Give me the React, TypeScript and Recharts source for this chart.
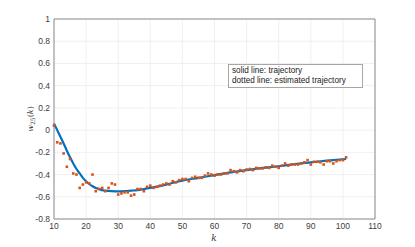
import React from "react";
import { ComposedChart, Line, XAxis, YAxis, CartesianGrid, ReferenceLine } from "recharts";

const estK = [10,11,12,13,14,15,16,17,18,19,20,21,22,23,24,25,26,27,28,29,30,31,32,33,34,35,36,37,38,39,40,41,42,43,44,45,46,47,48,49,50,51,52,53,54,55,56,57,58,59,60,61,62,63,64,65,66,67,68,69,70,71,72,73,74,75,76,77,78,79,80,81,82,83,84,85,86,87,88,89,90,91,92,93,94,95,96,97,98,99,100,101];
const estValues = [0.04,-0.11,-0.12,-0.21,-0.33,-0.26,-0.39,-0.40,-0.52,-0.49,-0.47,-0.48,-0.40,-0.55,-0.53,-0.52,-0.55,-0.52,-0.48,-0.49,-0.58,-0.57,-0.56,-0.56,-0.59,-0.58,-0.53,-0.53,-0.55,-0.51,-0.50,-0.52,-0.51,-0.50,-0.49,-0.48,-0.49,-0.46,-0.47,-0.45,-0.44,-0.44,-0.46,-0.43,-0.42,-0.43,-0.43,-0.41,-0.39,-0.40,-0.41,-0.40,-0.40,-0.39,-0.39,-0.36,-0.37,-0.38,-0.36,-0.37,-0.355,-0.35,-0.36,-0.34,-0.345,-0.345,-0.335,-0.34,-0.32,-0.33,-0.34,-0.32,-0.30,-0.32,-0.31,-0.31,-0.31,-0.30,-0.29,-0.27,-0.31,-0.285,-0.285,-0.29,-0.31,-0.28,-0.28,-0.30,-0.28,-0.27,-0.27,-0.245];

const trajK = [10,11,12,13,14,15,16,17,18,19,20,21,22,23,24,25,26,28,30,32,34,36,38,40,45,50,55,60,65,70,75,80,85,90,95,101];
const trajValues = [0.06,0.0,-0.06,-0.12,-0.185,-0.245,-0.30,-0.35,-0.39,-0.43,-0.46,-0.485,-0.505,-0.52,-0.53,-0.54,-0.545,-0.55,-0.552,-0.55,-0.545,-0.54,-0.53,-0.52,-0.49,-0.455,-0.43,-0.405,-0.38,-0.36,-0.34,-0.325,-0.305,-0.29,-0.275,-0.26];

const xTicks = [10,20,30,40,50,60,70,80,90,100,110];
const yTicks = [-0.8,-0.6,-0.4,-0.2,0,0.2,0.4,0.6,0.8,1];

const data = estK.map((k, i) => {
  const j = trajK.indexOf(k);
  return { k, est: estValues[i], traj: j >= 0 ? trajValues[j] : null };
});

const fmt = (v: number) => String(parseFloat(v.toFixed(1)));

const SquareDot = (props: any) => {
  const { cx, cy } = props;
  if (cx == null || cy == null) return null;
  return <rect x={cx - 1.3} y={cy - 1.3} width={2.6} height={2.6} fill="#D95319" />;
};

const axisColor = "#8c8c8c";
const tickStyle = { fontSize: 8.5, fill: "#404040", fontFamily: "Liberation Sans, Arial, sans-serif" };

export default function App() {
  return (
    <div style={{ position: "absolute", left: 0, top: 0, width: 415, height: 247, background: "#fff" }}>
      <ComposedChart width={415} height={247} data={data} margin={{ top: 19, right: 40, bottom: 0, left: 0 }}>
        <CartesianGrid stroke="#ececec" strokeWidth={0.8} verticalValues={xTicks} horizontalValues={yTicks} />
        <XAxis
          type="number"
          dataKey="k"
          domain={[10, 110]}
          ticks={xTicks}
          height={28}
          stroke={axisColor}
          tickLine={false}
          tickSize={2}
          tickMargin={2}
          tick={tickStyle}
          label={{
            content: () => (
              <text x={214} y={241} textAnchor="middle" fontSize={9} fontStyle="italic" fill="#333" fontFamily="DejaVu Serif, serif">k</text>
            ),
          }}
        />
        <YAxis
          type="number"
          domain={[-0.8, 1]}
          ticks={yTicks}
          width={54}
          stroke={axisColor}
          tickLine={false}
          tickSize={2}
          tickMargin={2}
          tick={tickStyle}
          tickFormatter={fmt}
          interval={0}
          allowDataOverflow
          label={{
            content: () => (
              <text transform="rotate(-90, 33, 119)" x={33} y={119} textAnchor="middle" fontSize={8} fill="#333" fontFamily="DejaVu Serif, serif">
                <tspan fontStyle="italic">w</tspan>
                <tspan fontSize={6} dy={2}>25</tspan>
                <tspan dy={-2}>(</tspan>
                <tspan fontStyle="italic">k</tspan>
                <tspan>)</tspan>
              </text>
            ),
          }}
        />
        <ReferenceLine y={1} stroke={axisColor} />
        <ReferenceLine x={110} stroke={axisColor} />
        <Line
          dataKey="traj"
          type="monotone"
          connectNulls
          stroke="#0072BD"
          strokeWidth={2.2}
          dot={false}
          activeDot={false}
          isAnimationActive={false}
        />
        <Line
          dataKey="est"
          stroke="none"
          dot={<SquareDot />}
          activeDot={false}
          isAnimationActive={false}
        />
      </ComposedChart>
      <div
        style={{
          position: "absolute",
          left: 228,
          top: 64,
          width: 135,
          height: 24,
          border: "1px solid #a6a6a6",
          background: "#fff",
          fontFamily: "Liberation Sans, Arial, sans-serif",
          fontSize: 8.2,
          lineHeight: "10px",
          color: "#222",
          padding: "1px 0 0 3px",
          boxSizing: "border-box",
          whiteSpace: "nowrap",
        }}
      >
        <div>solid line: trajectory</div>
        <div>dotted line: estimated trajectory</div>
      </div>
    </div>
  );
}
